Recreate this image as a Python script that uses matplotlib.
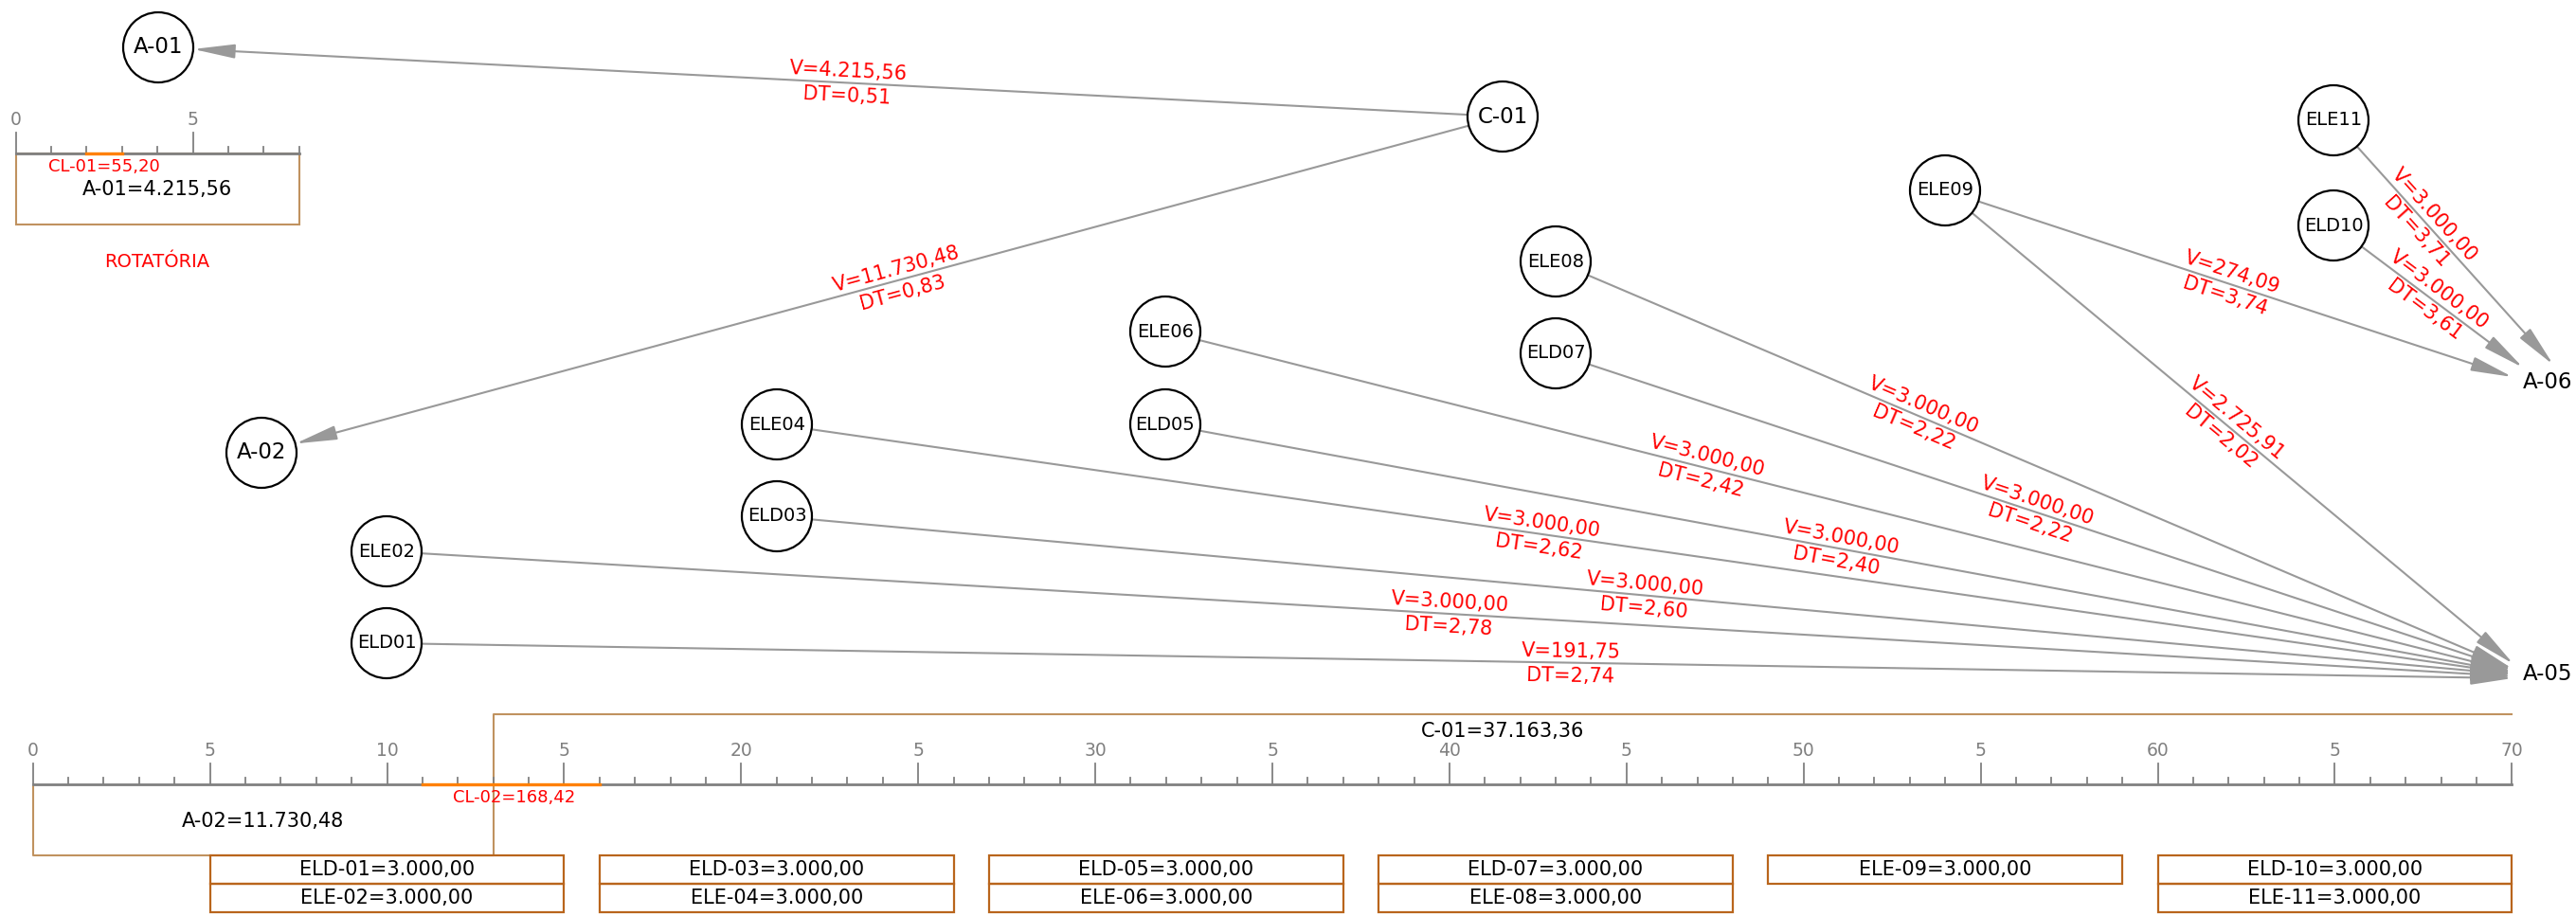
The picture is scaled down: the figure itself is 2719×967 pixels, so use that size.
import numpy as np
import matplotlib
matplotlib.use('Agg')
import matplotlib.pyplot as plt
from matplotlib.patches import Circle, FancyArrowPatch, Rectangle

# ---- nodes drawn as circles (layout in pixels) ----
node_names = ['A-01', 'C-01', 'A-02', 'ELD01', 'ELE02', 'ELD03', 'ELE04',
              'ELD05', 'ELE06', 'ELD07', 'ELE08', 'ELE09', 'ELD10', 'ELE11']
node_x = [167, 1586, 276, 408, 408, 820, 820, 1230, 1230, 1642, 1642, 2053, 2463, 2463]
node_y = [50, 123, 478, 679, 582, 545, 448, 448, 350, 373, 276, 201, 238, 127]

# ---- outlets (plain text) ----
outlet_names = ['A-05', 'A-06']
outlet_x = [2663, 2663]
outlet_y = [712, 403]

# ---- edges ----
edge_src = ['C-01', 'C-01', 'ELD01', 'ELE02', 'ELD03', 'ELE04', 'ELD05',
            'ELE06', 'ELD07', 'ELE08', 'ELE09', 'ELE09', 'ELD10', 'ELE11']
edge_dst = ['A-01', 'A-02', 'A-05', 'A-05', 'A-05', 'A-05', 'A-05',
            'A-05', 'A-05', 'A-05', 'A-05', 'A-06', 'A-06', 'A-06']
edge_v = ['4.215,56', '11.730,48', '191,75', '3.000,00', '3.000,00', '3.000,00',
          '3.000,00', '3.000,00', '3.000,00', '3.000,00', '2.725,91', '274,09',
          '3.000,00', '3.000,00']
edge_dt = ['0,51', '0,83', '2,74', '2,78', '2,60', '2,62', '2,40', '2,42',
           '2,22', '2,22', '2,02', '3,74', '3,61', '3,71']
label_t = [0.5, 0.5, 0.557, 0.5, 0.5, 0.44, 0.5, 0.40, 0.5, 0.38, 0.5, 0.5, 0.52, 0.42]
# arrow tip offset from the outlet text anchor (only for outlets)
tip_dx = [0, 0, -11, -11, -11, -11, -11, -11, -11, -11, -10, -11, 0, 32]
tip_dy = [0, 0, 4, 2, 0, -1, -2, -3, -5, -6, -11, -5, -15, -18]

# ---- rulers ----
top_ticks = ['0', '5']
bottom_ticks = ['0', '5', '10', '5', '20', '5', '30', '5', '40', '5', '50', '5', '60', '5', '70']
cl01 = (2, 3, 'CL-01=55,20')
cl02 = (11, 16, 'CL-02=168,42')
a01_text = 'A-01=4.215,56'
a02_span = (0, 13, 'A-02=11.730,48')
c01_span = (13, 70, 'C-01=37.163,36')

# ---- value boxes ----
box_start = [5, 16, 27, 38, 49, 60]
box_top = ['ELD-01=3.000,00', 'ELD-03=3.000,00', 'ELD-05=3.000,00',
           'ELD-07=3.000,00', 'ELE-09=3.000,00', 'ELD-10=3.000,00']
box_bottom = ['ELE-02=3.000,00', 'ELE-04=3.000,00', 'ELE-06=3.000,00',
              'ELE-08=3.000,00', None, 'ELE-11=3.000,00']

RED = '#ff0000'
GRAY = '#999999'
RULER = '#808080'
TAN = '#c0925f'
BROWN = '#b9651c'
ORANGE = '#ff8000'
R = 37

fig = plt.figure(figsize=(27.19, 9.67), dpi=100)
ax = fig.add_axes([0, 0, 1, 1])
ax.set_xlim(0, 2719)
ax.set_ylim(967, 0)
ax.axis('off')

pos = {n: (x, y) for n, x, y in zip(node_names, node_x, node_y)}
opos = {n: (x, y) for n, x, y in zip(outlet_names, outlet_x, outlet_y)}


def edge_label(p0, p1, t, top, bottom):
    px = p0[0] + t * (p1[0] - p0[0])
    py = p0[1] + t * (p1[1] - p0[1])
    dx, dy = p1[0] - p0[0], p1[1] - p0[1]
    ang = np.degrees(np.arctan2(-dy, dx))
    if ang > 90:
        ang -= 180
    if ang <= -90:
        ang += 180
    th = np.radians(ang)
    nx, ny = -np.sin(th), -np.cos(th)
    kw = dict(rotation=ang, rotation_mode='anchor', ha='center', va='center',
              color=RED, fontsize=15)
    ax.text(px + 12 * nx, py + 12 * ny, top, **kw)
    ax.text(px - 14 * nx, py - 14 * ny, bottom, **kw)


for i in range(len(edge_src)):
    s = np.array(pos[edge_src[i]], float)
    if edge_dst[i] in pos:
        c = np.array(pos[edge_dst[i]], float)
        u = (c - s) / np.linalg.norm(c - s)
        tip = c - R * u
    else:
        o = opos[edge_dst[i]]
        tip = np.array([o[0] + tip_dx[i], o[1] + tip_dy[i]], float)
    u = (tip - s) / np.linalg.norm(tip - s)
    start = s + R * u
    arr = FancyArrowPatch(start, tip, arrowstyle='-|>,head_length=27,head_width=4.6',
                          mutation_scale=1, color=GRAY, lw=1.5, shrinkA=0, shrinkB=0,
                          zorder=1)
    ax.add_patch(arr)
    edge_label(s, tip, label_t[i], 'V=' + edge_v[i], 'DT=' + edge_dt[i])

for n, x, y in zip(node_names, node_x, node_y):
    ax.add_patch(Circle((x, y), R, facecolor='white', edgecolor='black', lw=1.6, zorder=3))
    fs = 16.5 if n[0] in 'AC' else 14
    ax.text(x, y, n, ha='center', va='center', fontsize=fs, zorder=4)

for n, x, y in zip(outlet_names, outlet_x, outlet_y):
    ax.text(x, y, n, ha='left', va='center', fontsize=16.5)


# ---- top-left ruler (rotatória) ----
def ux_top(u):
    return 16.5 + 37.4 * u


top_y = 162
ax.add_patch(Rectangle((ux_top(0), top_y), ux_top(8) - ux_top(0), 75, fill=False,
                       edgecolor=TAN, lw=1.5, zorder=2))
ax.plot([ux_top(0), ux_top(8)], [top_y, top_y], color=RULER, lw=2, zorder=3)
for u in range(9):
    h = 22 if u % 5 == 0 else 7
    ax.plot([ux_top(u)] * 2, [top_y - h, top_y], color=RULER, lw=1.3, zorder=3)
for k, lab in enumerate(top_ticks):
    ax.text(ux_top(5 * k), top_y - 36, lab, ha='center', va='center', fontsize=13.5, color=RULER)
ax.plot([ux_top(cl01[0]), ux_top(cl01[1])], [top_y, top_y], color=ORANGE, lw=2.4, zorder=4)
ax.text(ux_top(2.5), 176, cl01[2], ha='center', va='center', fontsize=13, color=RED)
ax.text(ux_top(4), 200, a01_text, ha='center', va='center', fontsize=15)
ax.text(ux_top(4), 277, 'ROTATÓRIA', ha='center', va='center', fontsize=14, color=RED)


# ---- bottom ruler ----
def ux(u):
    return 34.7 + 37.38 * u


ry = 828
ax.plot([ux(0), ux(0), ux(a02_span[1]), ux(a02_span[1]), ux(c01_span[1])],
        [ry, 903, 903, 754, 754], color=TAN, lw=1.5, zorder=2)
ax.plot([ux(0), ux(70)], [ry, ry], color=RULER, lw=2, zorder=3)
for u in range(71):
    h = 22 if u % 5 == 0 else 7
    ax.plot([ux(u)] * 2, [ry - h, ry], color=RULER, lw=1.3, zorder=3)
for k, lab in enumerate(bottom_ticks):
    ax.text(ux(5 * k), 792, lab, ha='center', va='center', fontsize=13.5, color=RULER)
ax.plot([ux(cl02[0]), ux(cl02[1])], [ry, ry], color=ORANGE, lw=2.4, zorder=4)
ax.text(ux(13.6), 842, cl02[2], ha='center', va='center', fontsize=13, color=RED)
ax.text(ux(6.5), 867, a02_span[2], ha='center', va='center', fontsize=15)
ax.text(ux(41.5), 772, c01_span[2], ha='center', va='center', fontsize=15)

# ---- value boxes ----
for b, t1, t2 in zip(box_start, box_top, box_bottom):
    x0, x1 = ux(b), ux(b + 10)
    ax.add_patch(Rectangle((x0, 903), x1 - x0, 30, fill=False, edgecolor=BROWN, lw=1.6, zorder=3))
    ax.text((x0 + x1) / 2, 918, t1, ha='center', va='center', fontsize=15)
    if t2:
        ax.add_patch(Rectangle((x0, 933), x1 - x0, 30, fill=False, edgecolor=BROWN, lw=1.6, zorder=3))
        ax.text((x0 + x1) / 2, 948, t2, ha='center', va='center', fontsize=15)

fig.savefig('out.png', dpi=100)
